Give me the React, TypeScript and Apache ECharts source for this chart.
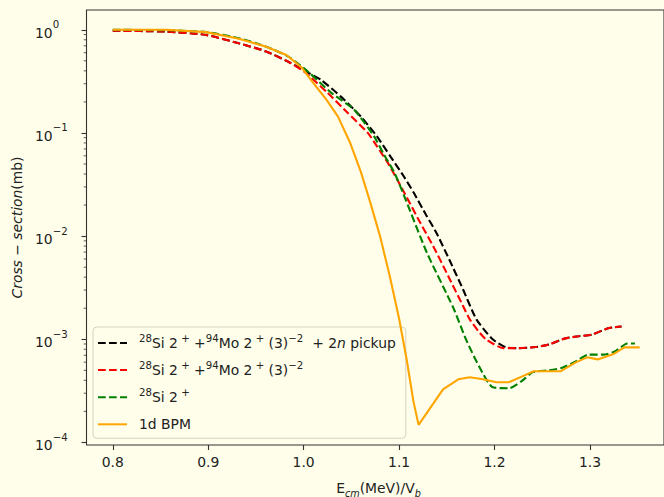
import React, { useEffect, useRef } from 'react';
import * as echarts from 'echarts';

const BG = '#fffeea';
const FONT = 'DejaVu Sans';

const seriesNames = [
  '28Si 2+ +94Mo 2+(3)−2 + 2n pickup',
  '28Si 2+ +94Mo 2+(3)−2',
  '28Si 2+',
  '1d BPM',
];
const legendLabels = [
  '{pad| }{sup|28}Si 2{sup| +} +{sup|94}Mo 2{sup| +} (3){sup|−2}  + 2{it|n} pickup',
  '{pad| }{sup|28}Si 2{sup| +} +{sup|94}Mo 2{sup| +} (3){sup|−2}',
  '{pad| }{sup|28}Si 2{sup| +}',
  '{pad| }1d BPM',
];
const seriesColors = ['#000000', '#ff0000', '#008000', '#ffa500'];

const pickupX = [0.800, 0.856, 0.898, 0.932, 0.960, 0.984, 1.001, 1.018, 1.039, 1.060, 1.077, 1.091, 1.105, 1.116, 1.128, 1.139, 1.153, 1.167, 1.181, 1.198, 1.212, 1.225, 1.243, 1.257, 1.274, 1.288, 1.302, 1.319, 1.333];
const pickupY = [0.98, 0.96, 0.89, 0.74, 0.62, 0.49, 0.40, 0.328, 0.225, 0.144, 0.092, 0.059, 0.0378, 0.0257, 0.0162, 0.0108, 0.0058, 0.00304, 0.00156, 0.00100, 0.000835, 0.00082, 0.00084, 0.00089, 0.00102, 0.00107, 0.00111, 0.00128, 0.00133];

const mo94X = [0.800, 0.856, 0.898, 0.932, 0.960, 0.984, 1.001, 1.025, 1.046, 1.067, 1.077, 1.088, 1.098, 1.106, 1.121, 1.136, 1.152, 1.167, 1.174, 1.183, 1.191, 1.209, 1.225, 1.243, 1.257, 1.274, 1.288, 1.302, 1.319, 1.333];
const mo94Y = [0.98, 0.96, 0.89, 0.74, 0.62, 0.49, 0.39, 0.245, 0.157, 0.1007, 0.0736, 0.0516, 0.0353, 0.0257, 0.0141, 0.0079, 0.0040, 0.0021, 0.00156, 0.0012, 0.00100, 0.00082, 0.00082, 0.00084, 0.00089, 0.00102, 0.00107, 0.00111, 0.00128, 0.00133];

const si28X = [0.800, 0.856, 0.898, 0.932, 0.960, 0.984, 1.005, 1.029, 1.053, 1.074, 1.084, 1.095, 1.104, 1.129, 1.157, 1.170, 1.184, 1.198, 1.215, 1.228, 1.240, 1.257, 1.271, 1.285, 1.298, 1.314, 1.326, 1.339, 1.347];
const si28Y = [1.0, 0.99, 0.95, 0.83, 0.69, 0.55, 0.39, 0.245, 0.168, 0.092, 0.062, 0.0413, 0.0263, 0.00693, 0.0020, 0.0010, 0.00054, 0.000342, 0.000335, 0.00039, 0.00048, 0.00050, 0.00053, 0.00061, 0.00071, 0.00071, 0.00076, 0.00091, 0.00091];

const bpmX = [0.800, 0.856, 0.898, 0.932, 0.960, 0.982, 0.998, 1.012, 1.024, 1.036, 1.049, 1.060, 1.070, 1.080, 1.090, 1.100, 1.108, 1.115, 1.1204, 1.146, 1.162, 1.174, 1.188, 1.202, 1.215, 1.229, 1.241, 1.257, 1.269, 1.285, 1.297, 1.308, 1.324, 1.336, 1.352];
const bpmY = [1.0, 1.0, 0.95, 0.82, 0.69, 0.57, 0.43, 0.29, 0.209, 0.144, 0.079, 0.0417, 0.0209, 0.0100, 0.00417, 0.00158, 0.00063, 0.00025, 0.000148, 0.000327, 0.000409, 0.000428, 0.000409, 0.000383, 0.000383, 0.000437, 0.000489, 0.000489, 0.000489, 0.000597, 0.000668, 0.000638, 0.000714, 0.000835, 0.000835];

const xTicks = [0.8, 0.9, 1.0, 1.1, 1.2, 1.3];
const yDecades = [-4, -3, -2, -1, 0];
const minorMultipliers = [2, 3, 4, 5, 6, 7, 8, 9];

const X_MIN = 0.7725;
const X_MAX = 1.3775;
const Y_MIN = -4.025;
const Y_MAX = 0.192;

const toPairs = (xs: number[], ys: number[]) => xs.map((x, i) => [x, Math.log10(ys[i])]);

export default function App() {
  const ref = useRef<HTMLDivElement>(null);
  useEffect(() => {
    const chart = echarts.init(ref.current!, null, { renderer: 'svg' });
    const minorVals: number[] = [];
    yDecades.forEach((d) => {
      minorMultipliers.forEach((m) => {
        const v = d + Math.log10(m);
        if (v > Y_MIN && v < Y_MAX) minorVals.push(v);
      });
    });
    const seriesData = [
      toPairs(pickupX, pickupY),
      toPairs(mo94X, mo94Y),
      toPairs(si28X, si28Y),
      toPairs(bpmX, bpmY),
    ];
    const supRich = { fontSize: 10.2, lineHeight: 10, verticalAlign: 'top', fontFamily: FONT, color: '#222' };
    const option: any = {
      animation: false,
      backgroundColor: BG,
      grid: {
        left: 86.5,
        top: 10,
        width: 584,
        height: 435,
        show: true,
        borderColor: '#333',
        borderWidth: 1.1,
        backgroundColor: BG,
      },
      xAxis: {
        type: 'value',
        min: X_MIN,
        max: X_MAX,
        splitLine: { show: false },
        axisLine: { show: false, onZero: false },
        axisTick: { show: true, length: 5, lineStyle: { color: '#333', width: 1.1 }, customValues: xTicks },
        axisLabel: {
          customValues: xTicks,
          formatter: (v: number) => v.toFixed(1),
          margin: 10,
          fontFamily: FONT,
          fontSize: 13.9,
          color: '#222',
        },
      },
      yAxis: {
        type: 'value',
        min: Y_MIN,
        max: Y_MAX,
        splitLine: { show: false },
        axisLine: { show: false, onZero: false },
        axisTick: { show: true, length: 5, lineStyle: { color: '#333', width: 1.1 }, customValues: yDecades },
        axisLabel: {
          customValues: yDecades,
          align: 'left',
          margin: 51.5,
          formatter: (v: number) => {
            const e = Math.round(v);
            const s = e < 0 ? '−' + Math.abs(e) : String(e);
            return '{b|10}{sup|' + s + '}';
          },
          fontFamily: FONT,
          fontSize: 13.9,
          color: '#222',
          rich: {
            b: { fontSize: 13.9, lineHeight: 20, verticalAlign: 'bottom', fontFamily: FONT, color: '#222' },
            sup: supRich,
          },
        },
      },
      legend: {
        orient: 'vertical',
        left: 93,
        top: 327,
        padding: [6, 10, 4, 4],
        itemGap: 7.1,
        itemWidth: 29,
        itemHeight: 14,
        backgroundColor: 'rgba(255,254,234,0.85)',
        borderColor: '#d8d2bf',
        borderWidth: 1,
        borderRadius: 4,
        itemStyle: { opacity: 0 },
        data: seriesNames,
        formatter: (name: string) => legendLabels[seriesNames.indexOf(name)],
        textStyle: {
          fontFamily: FONT,
          fontSize: 13.9,
          lineHeight: 20,
          color: '#222',
          rich: {
            sup: supRich,
            it: { fontStyle: 'italic', fontSize: 13.9, lineHeight: 20, fontFamily: FONT, color: '#222' },
            pad: { width: 7, fontSize: 13.9, lineHeight: 20 },
          },
        },
      },
      graphic: [
        {
          type: 'text',
          x: 17,
          y: 227.5,
          rotation: Math.PI / 2,
          style: {
            text: '{i|Cross − section}(mb)',
            fontFamily: FONT,
            fontSize: 13.9,
            fill: '#222',
            align: 'center',
            verticalAlign: 'middle',
            rich: {
              i: { fontStyle: 'italic', fontFamily: FONT, fontSize: 13.9, fill: '#222' },
            },
          },
        },
        {
          type: 'text',
          x: 378.5,
          y: 488,
          style: {
            text: 'E{s|cm}(MeV)/V{s|b}',
            fontFamily: FONT,
            fontSize: 13.9,
            lineHeight: 20,
            fill: '#222',
            align: 'center',
            verticalAlign: 'middle',
            rich: {
              s: { fontStyle: 'italic', fontFamily: FONT, fontSize: 9.7, lineHeight: 12, verticalAlign: 'bottom', fill: '#222' },
            },
          },
        },
      ],
      series: [
        ...seriesNames.map((name, i) => ({
          name,
          type: 'line',
          data: seriesData[i],
          showSymbol: false,
          symbol: 'none',
          smooth: i < 3 ? 0.2 : false,
          z: 2 + i,
          lineStyle: {
            color: seriesColors[i],
            width: 2.1,
            type: i < 3 ? [7.7, 3.3] : 'solid',
          },
          itemStyle: { color: seriesColors[i] },
        })),
        {
          name: 'minorTicks',
          type: 'custom',
          silent: true,
          clip: false,
          z: 20,
          data: minorVals.map((v) => [X_MIN, v]),
          renderItem: (_params: any, api: any) => {
            const p = api.coord([X_MIN, api.value(1)]);
            return {
              type: 'line',
              shape: { x1: p[0] - 2.8, y1: p[1], x2: p[0], y2: p[1] },
              style: { stroke: '#333', lineWidth: 0.8 },
            };
          },
        },
      ],
    };
    chart.setOption(option);
    return () => chart.dispose();
  }, []);
  return (
    <div
      ref={ref}
      style={{ position: 'fixed', left: 0, top: 0, width: 664, height: 497, background: BG }}
    />
  );
}
